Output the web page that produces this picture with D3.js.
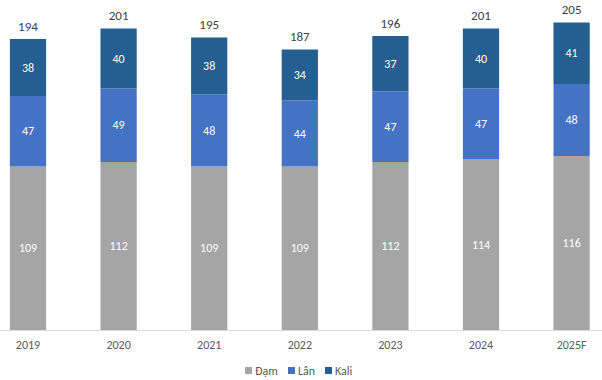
<!DOCTYPE html>
<html><head><meta charset="utf-8">
<script src="https://cdn.jsdelivr.net/npm/d3@7/dist/d3.min.js"></script>
<style>body{margin:0;background:#fff;}svg{display:block;font-family:Carlito,"Open Sans","Liberation Sans",sans-serif;}</style>
</head><body><svg id="c" width="602" height="380"></svg>
<script>
const categories = ["2019","2020","2021","2022","2023","2024","2025F"];
const dam = [109,112,109,109,112,114,116];
const lan = [47,49,48,44,47,47,48];
const kali = [38,40,38,34,37,40,41];
const totals = [194,201,195,187,196,201,205];
const seriesNames = ["Đạm","Lân","Kali"];
const colors = ["#A5A5A5","#4472C4","#255E91"];

const svg = d3.select("#c");
const x = d3.scaleBand().domain(categories).range([-17.3, 616.9]).paddingInner(0.6).paddingOuter(0.3);
const y = d3.scaleLinear().domain([0, 200]).range([330, 30]);

const rows = categories.map((c,i)=>({cat:c, "Đạm":dam[i], "Lân":lan[i], "Kali":kali[i]}));
const stack = d3.stack().keys(seriesNames)(rows);

// axis line
svg.append("line").attr("x1",0).attr("x2",602).attr("y1",y(0)+0.5).attr("y2",y(0)+0.5).attr("stroke","#D9D9D9").attr("stroke-width",1);

const g = svg.append("g");
stack.forEach((s,si)=>{
  g.selectAll(null).data(s).enter().append("rect")
    .attr("x", d=>x(d.data.cat)).attr("width", x.bandwidth())
    .attr("y", d=>y(d[1])).attr("height", d=>y(d[0])-y(d[1]))
    .attr("fill", colors[si]);
  g.selectAll(null).data(s).enter().append("text")
    .attr("x", d=>x(d.data.cat)+x.bandwidth()/2)
    .attr("y", d=>(y(d[0])+y(d[1]))/2)
    .attr("dy","0.35em").attr("text-anchor","middle")
    .attr("fill","#fff").attr("font-size","12px")
    .text(d=>d[1]-d[0]);
});
// totals
svg.selectAll(null).data(categories).enter().append("text")
  .attr("x", c=>x(c)+x.bandwidth()/2)
  .attr("y", (c,i)=>y(totals[i])-13)
  .attr("dy","0.35em").attr("text-anchor","middle")
  .attr("fill","#404040").attr("font-size","13px")
  .text((c,i)=>totals[i]);

// x axis
const xa = svg.append("g").attr("transform",`translate(0,${y(0)})`)
  .call(d3.axisBottom(x).tickSize(0).tickPadding(10));
xa.select(".domain").remove();
xa.selectAll("text").attr("fill","#595959").attr("font-size","12px").attr("font-family",'Carlito,"Open Sans","Liberation Sans",sans-serif');

// legend
const legX = [245, 288, 325];
const leg = svg.append("g");
seriesNames.forEach((n,i)=>{
  leg.append("rect").attr("x",legX[i]).attr("y",367).attr("width",7).attr("height",7).attr("fill",colors[i]);
  leg.append("text").attr("x",legX[i]+10).attr("y",370.5).attr("dy","0.35em")
    .attr("fill","#595959").attr("font-size","12px").text(n);
});
</script></body></html>
